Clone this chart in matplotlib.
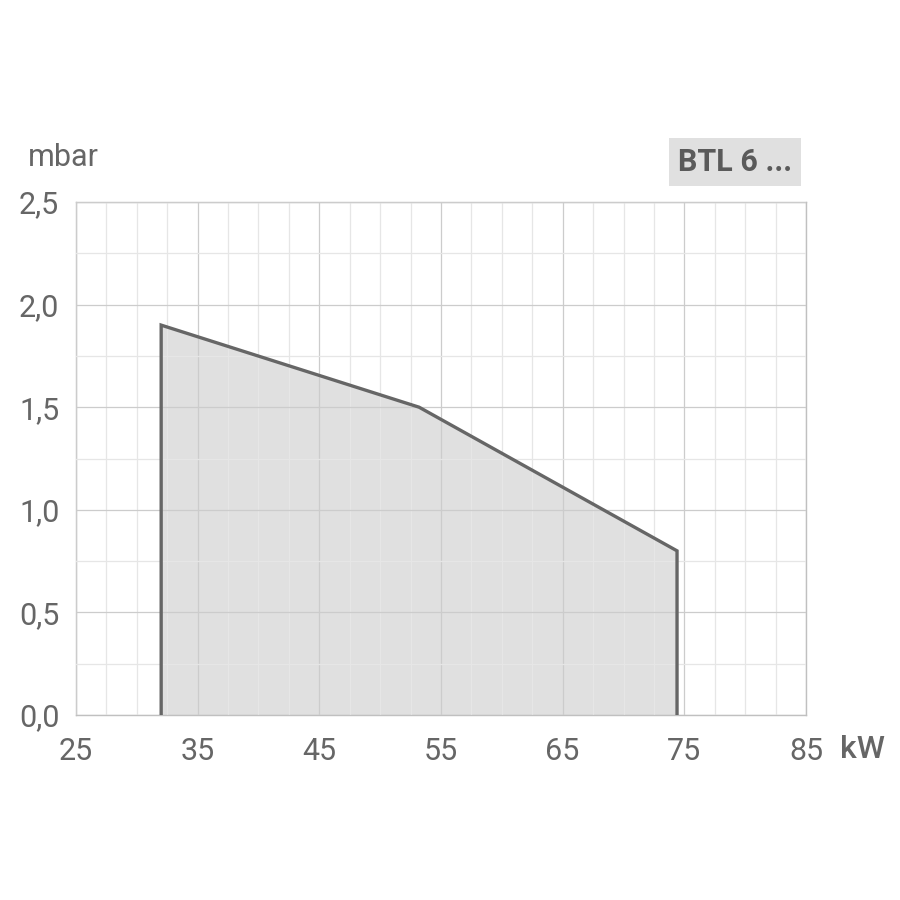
import matplotlib.pyplot as plt
from matplotlib.ticker import MultipleLocator

# Leistungskurve BTL 6
leistung = [32, 32, 53.2, 74.4, 74.4]
druck = [0.0, 1.9, 1.5, 0.8, 0.0]

x_ticks = [25, 35, 45, 55, 65, 75, 85]
y_ticks = [0.0, 0.5, 1.0, 1.5, 2.0, 2.5]
y_labels = ["0,0", "0,5", "1,0", "1,5", "2,0", "2,5"]

grau = "#666666"

fig = plt.figure(figsize=(9, 9), dpi=100)
ax = fig.add_axes([76/900, 1 - 715/900, 730/900, 513/900])

ax.fill(leistung, druck, color="#e0e0e0", zorder=1, lw=0)
ax.plot(leistung, druck, color=grau, lw=2.4, zorder=3, solid_joinstyle="miter")

ax.set_xlim(25, 85)
ax.set_ylim(0, 2.5)
ax.set_xticks(x_ticks)
ax.set_yticks(y_ticks)
ax.set_yticklabels(y_labels)
ax.xaxis.set_minor_locator(MultipleLocator(2.5))
ax.yaxis.set_minor_locator(MultipleLocator(0.25))

ax.grid(which="major", color="#cccccc", lw=0.9, zorder=2)
ax.grid(which="minor", color="#e6e6e6", lw=0.9, zorder=2)
ax.set_axisbelow(False)

for s in ax.spines.values():
    s.set_color("#c0c0c0")
    s.set_linewidth(1.0)
    s.set_zorder(2)

ax.tick_params(which="both", length=0, colors=grau, labelsize=22)
ax.tick_params(axis="x", pad=16)
ax.tick_params(axis="y", pad=12)
for lbl in ax.get_xticklabels() + ax.get_yticklabels():
    lbl.set_fontfamily("Roboto")
    lbl.set_color(grau)

fig.text(28/900, 1 - 158/900, "mbar", fontsize=22, color=grau,
         family="Roboto", va="center", ha="left")
fig.text(840/900, 1 - 750/900, "kW", fontsize=23, color=grau,
         family="Roboto", va="center", ha="left", fontweight="medium")
fig.text(735/900, 1 - 162/900, "BTL 6 ...", fontsize=22, color="#5a5a5a",
         family="Roboto", fontweight="bold", va="center", ha="center",
         bbox=dict(boxstyle="square,pad=0.3", fc="#e0e0e0", ec="none"))

fig.savefig("out.png", dpi=100, facecolor="white")
